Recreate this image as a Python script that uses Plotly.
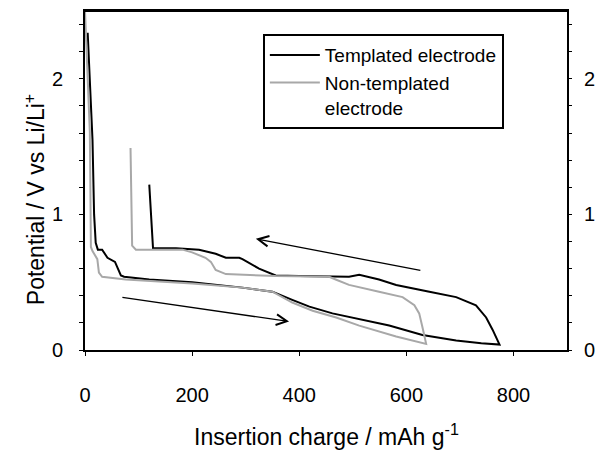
import plotly.graph_objects as go

# Templated electrode: discharge (insertion) then charge
tmpl_dis_x = [5, 9, 14, 17, 20, 24, 32, 42, 51, 56, 67, 73, 120, 200, 294, 350, 387, 419, 462, 512, 568, 630, 693, 740, 774]
tmpl_dis_y = [2.34, 2.0, 1.55, 1.0, 0.79, 0.74, 0.74, 0.68, 0.66, 0.65, 0.55, 0.54, 0.52, 0.50, 0.46, 0.43, 0.37, 0.32, 0.27, 0.23, 0.18, 0.11, 0.07, 0.05, 0.04]
tmpl_chg_x = [761, 749, 730, 693, 643, 581, 549, 512, 493, 462, 400, 356, 325, 294, 288, 263, 244, 213, 170, 127, 120]
tmpl_chg_y = [0.15, 0.24, 0.33, 0.39, 0.43, 0.48, 0.52, 0.555, 0.54, 0.54, 0.545, 0.55, 0.60, 0.67, 0.68, 0.68, 0.71, 0.74, 0.75, 0.75, 1.22]

# Non-templated electrode
nt_dis_x = [0, 5, 9, 10, 11, 14, 23, 26, 32, 76, 200, 294, 350, 387, 425, 469, 512, 581, 637]
nt_dis_y = [2.5, 2.0, 1.61, 1.2, 0.76, 0.73, 0.67, 0.57, 0.54, 0.52, 0.49, 0.46, 0.43, 0.35, 0.29, 0.24, 0.18, 0.10, 0.045]
nt_chg_x = [630, 624, 615, 593, 549, 512, 493, 468, 456, 356, 263, 244, 235, 225, 200, 182, 95, 88, 85]
nt_chg_y = [0.17, 0.27, 0.33, 0.39, 0.43, 0.46, 0.48, 0.52, 0.54, 0.545, 0.56, 0.59, 0.65, 0.68, 0.72, 0.74, 0.74, 0.77, 1.49]

# Direction arrows (tail -> head)
arrow_lower = {"tail": (67, 0.39), "head": (381, 0.21)}
arrow_upper = {"tail": (629, 0.585), "head": (319, 0.82)}

x_ticks = [0, 200, 400, 600, 800]
y_ticks = [0, 0.2, 0.4, 0.6, 0.8, 1, 1.2, 1.4, 1.6, 1.8, 2, 2.2, 2.4]
y_ticktext = ["0", "", "", "", "", "1", "", "", "", "", "2", "", ""]

FONT = "Liberation Sans, Arial, sans-serif"

fig = go.Figure()
fig.add_trace(go.Scatter(x=tmpl_dis_x + tmpl_chg_x, y=tmpl_dis_y + tmpl_chg_y, mode="lines",
                         line=dict(color="black", width=2), name="Templated electrode"))
fig.add_trace(go.Scatter(x=nt_dis_x + nt_chg_x, y=nt_dis_y + nt_chg_y, mode="lines", yaxis="y2",
                         line=dict(color="#a8a8a8", width=2), name="Non-templated<br>electrode"))

for arr in (arrow_lower, arrow_upper):
    fig.add_annotation(x=arr["head"][0], y=arr["head"][1], ax=arr["tail"][0], ay=arr["tail"][1],
                       xref="x", yref="y", axref="x", ayref="y", showarrow=True, text="",
                       arrowhead=5, arrowsize=1.6, arrowwidth=1.3, arrowcolor="black")

fig.add_annotation(text="Insertion charge / mAh g<sup>-1</sup>", xref="paper", yref="paper",
                   x=0.5, y=-0.252, xanchor="center", yanchor="middle", showarrow=False,
                   font=dict(size=23, color="black", family=FONT))
fig.add_annotation(text="Potential / V vs Li/Li<sup>+</sup>", xref="paper", yref="paper",
                   x=-0.105, y=0.443, xanchor="center", yanchor="middle", showarrow=False,
                   textangle=-90, font=dict(size=23, color="black", family=FONT))

# plot-area top border
fig.add_shape(type="line", xref="paper", yref="paper", x0=0, x1=1, y0=1, y1=1,
              line=dict(color="black", width=2))

axis_common = dict(showgrid=False, zeroline=False, showline=True, linecolor="black", linewidth=2,
                   automargin=False, tickcolor="black",
                   tickfont=dict(size=20, color="black", family=FONT))

fig.update_layout(
    width=595, height=450,
    margin=dict(l=85, r=28, t=11, b=100),
    paper_bgcolor="white", plot_bgcolor="white",
    font=dict(family=FONT, color="black"),
    xaxis=dict(range=[0, 900], tickvals=x_ticks, ticks="outside", ticklen=4, mirror=True,
               ticklabelstandoff=22, **axis_common),
    yaxis=dict(range=[0, 2.5], tickvals=y_ticks, ticktext=y_ticktext, ticks="outside", ticklen=4,
               ticklabelstandoff=12, **axis_common),
    yaxis2=dict(range=[0, 2.5], matches="y", overlaying="y", side="right", tickvals=y_ticks,
                ticktext=y_ticktext, ticks="outside", ticklen=3,
                ticklabelstandoff=8, **axis_common),
    legend=dict(x=0.369, y=0.932, xanchor="left", yanchor="top", bordercolor="black", borderwidth=2,
                bgcolor="white", font=dict(size=19, color="black", family=FONT), valign="top",
                itemwidth=50, tracegroupgap=2),
    showlegend=True,
)

fig.write_html("out.html", config={"displayModeBar": False},
               post_script="document.body.style.margin='0';")
